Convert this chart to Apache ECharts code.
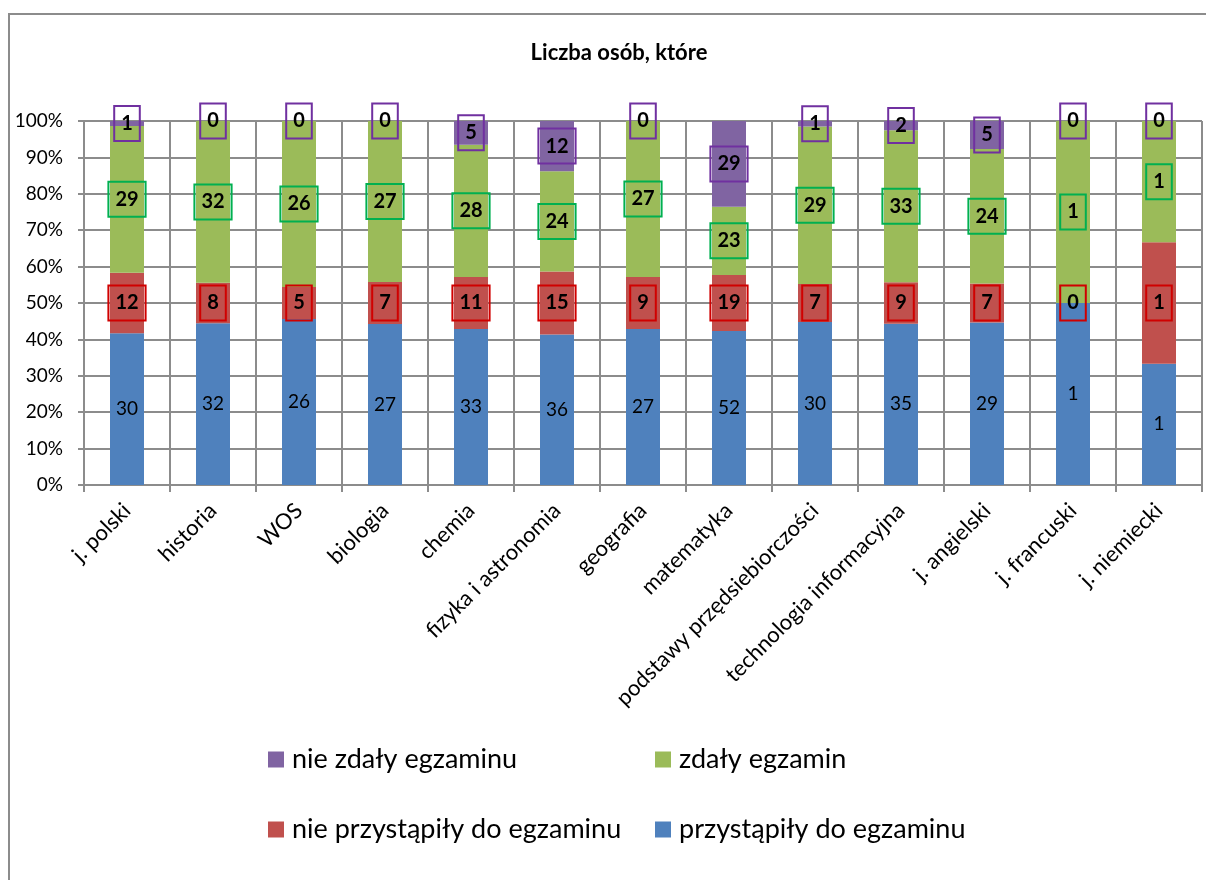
<!DOCTYPE html>
<html>
<head>
<meta charset="utf-8">
<script src="https://cdn.jsdelivr.net/npm/echarts@6/dist/echarts.min.js"></script>
<style>
html,body{margin:0;padding:0;background:#fff;}
#c{width:1206px;height:880px;}
</style>
</head>
<body>
<div id="c"></div>
<script>
const categories = ['j. polski','historia','WOS','biologia','chemia','fizyka i astronomia','geografia','matematyka','podstawy przędsiebiorczości','technologia informacyjna','j. angielski','j. francuski','j. niemiecki'];
const przystapily = [30,32,26,27,33,36,27,52,30,35,29,1,1];
const nieprzystapily = [12,8,5,7,11,15,9,19,7,9,7,0,1];
const zdaly = [29,32,26,27,28,24,27,23,29,33,24,1,1];
const niezdaly = [1,0,0,0,5,12,0,29,1,2,5,0,0];
const yTicks = ['0%','10%','20%','30%','40%','50%','60%','70%','80%','90%','100%'];

const names = ['przystąpiły do egzaminu','nie przystąpiły do egzaminu','zdały egzamin','nie zdały egzaminu'];
const raw = [przystapily, nieprzystapily, zdaly, niezdaly];
const colors = ['#4F81BD','#C0504D','#9BBB59','#8064A2'];
const boxColors = [null,'#D00000','#00B050','#7030A0'];
const totals = categories.map((_, i) => raw.reduce((s, arr) => s + arr[i], 0));
const FONT = 'Lato, "Open Sans", sans-serif';

const series = raw.map((arr, k) => ({
  name: names[k],
  type: 'bar',
  stack: 'all',
  barWidth: 34,
  itemStyle: { color: colors[k] },
  data: arr.map((v, i) => ({ value: v / totals[i] * 100, raw: v })),
  label: k === 0 ? {
    show: true, position: 'inside', color: '#000', fontSize: 19, fontFamily: FONT,
    formatter: p => String(p.data.raw)
  } : {
    show: true, position: 'inside', color: '#000', fontSize: 20, fontWeight: 'bold', fontFamily: FONT,
    borderColor: boxColors[k], borderWidth: 2, padding: [8, 7, 7, 7],
    formatter: p => String(p.data.raw)
  },
  labelLayout: { hideOverlap: false }
}));

const chart = echarts.init(document.getElementById('c'));
const legendCfg = (name, left, top) => ({
  data: [name], left: left, top: top, orient: 'horizontal',
  itemWidth: 16, itemHeight: 16, itemGap: 4, selectedMode: false,
  textStyle: { fontSize: 27, fontFamily: FONT, color: '#000', padding: [0,0,0,3] },
  icon: 'rect'
});
chart.setOption({
  backgroundColor: '#fff',
  animation: false,
  title: {
    text: 'Liczba osób, które', left: 614, top: 37, textAlign: 'center',
    textStyle: { fontSize: 22, fontWeight: 'bold', fontFamily: FONT, color: '#000' }
  },
  legend: [
    legendCfg(names[3], 263, 741),
    legendCfg(names[2], 650, 741),
    legendCfg(names[1], 263, 811),
    legendCfg(names[0], 650, 811)
  ],
  grid: { left: 84, right: 4, top: 121, bottom: 395, containLabel: false },
  xAxis: {
    type: 'category', data: categories,
    axisLine: { lineStyle: { color: '#8c8c8c', width: 2 } },
    axisTick: { show: true, length: 7, lineStyle: { color: '#8c8c8c', width: 2 } },
    splitLine: { show: true, lineStyle: { color: '#8c8c8c', width: 2 } },
    axisLabel: { rotate: 45, fontSize: 22, fontFamily: FONT, color: '#000', margin: 22, interval: 0 }
  },
  yAxis: {
    type: 'value', min: 0, max: 100, interval: 10,
    axisLine: { show: true, lineStyle: { color: '#8c8c8c', width: 2 } },
    axisTick: { show: true, length: 6, lineStyle: { color: '#8c8c8c', width: 2 } },
    splitLine: { show: true, lineStyle: { color: '#8c8c8c', width: 2 } },
    axisLabel: { fontSize: 19, fontFamily: FONT, color: '#000', margin: 21,
      formatter: v => yTicks[Math.round(v / 10)] }
  },
  graphic: [{
    type: 'rect', shape: { x: 9, y: 14, width: 1220, height: 900 },
    style: { fill: 'none', stroke: '#8c8c8c', lineWidth: 2 }, silent: true, z: -1
  }],
  series: series
});
</script>
</body>
</html>
